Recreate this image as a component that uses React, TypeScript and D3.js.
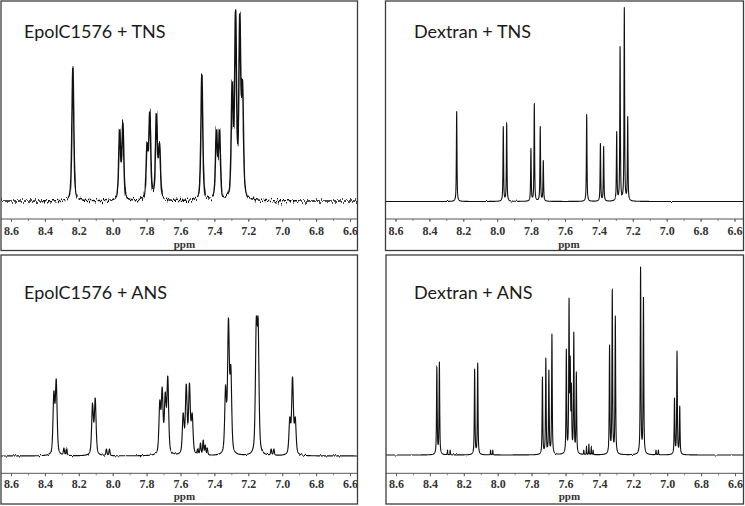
import React, { useMemo } from 'react';
import * as d3 from 'd3';

// ---------- data ----------
const TICK_VALUES = [8.6, 8.4, 8.2, 8.0, 7.8, 7.6, 7.4, 7.2, 7.0, 6.8, 6.6];
const TICK_LABELS = ['8.6', '8.4', '8.2', '8.0', '7.8', '7.6', '7.4', '7.2', '7.0', '6.8', '6.6'];
const AXIS_LABEL = 'ppm';
const TITLES = ['EpolC1576 + TNS', 'Dextran + TNS', 'EpolC1576 + ANS', 'Dextran + ANS'];

// Peak positions (ppm) and observed heights (relative intensity) per spectrum
const EPOL_TNS_PPM = [8.238, 7.962, 7.943, 7.800, 7.784, 7.745, 7.727, 7.477, 7.391, 7.373, 7.298, 7.278, 7.253, 7.237];
const EPOL_TNS_H = [134, 72, 79, 59, 91, 89, 61, 126, 73, 73, 121, 192, 189, 121];

const DEX_TNS_PPM = [8.242, 7.967, 7.947, 7.804, 7.784, 7.749, 7.731, 7.475, 7.394, 7.375, 7.298, 7.278, 7.253, 7.233];
const DEX_TNS_H = [90, 75, 79, 53, 98, 75, 41, 87, 58, 55, 70, 155, 194, 85];

const EPOL_ANS_PPM = [8.350, 8.336, 8.291, 8.275, 8.122, 8.106, 8.040, 8.022, 7.725, 7.711, 7.693, 7.678, 7.587, 7.569, 7.550, 7.534, 7.501, 7.485, 7.469, 7.457, 7.445, 7.337, 7.320, 7.306, 7.156, 7.145, 7.068, 7.052, 6.958, 6.942, 6.926];
const EPOL_ANS_H = [65, 77, 8, 8, 53, 58, 7, 7, 56, 69, 64, 80, 43, 72, 73, 43, 8, 13, 16, 11, 8, 71, 138, 91, 138, 138, 7, 7, 39, 79, 39];

const DEX_ANS_PPM = [8.362, 8.347, 8.299, 8.283, 8.139, 8.121, 8.045, 8.032, 7.739, 7.719, 7.701, 7.683, 7.598, 7.582, 7.575, 7.568, 7.554, 7.539, 7.495, 7.479, 7.465, 7.451, 7.440, 7.343, 7.327, 7.309, 7.160, 7.143, 7.069, 7.055, 6.960, 6.945, 6.929];
const DEX_ANS_H = [89, 93, 5, 5, 86, 92, 5, 5, 78, 97, 85, 121, 106, 157, 99, 72, 123, 83, 5, 8, 11, 8, 5, 110, 166, 139, 188, 158, 5, 5, 57, 104, 49];

const SPECTRA = [
  { ppm: EPOL_TNS_PPM, h: EPOL_TNS_H },
  { ppm: DEX_TNS_PPM, h: DEX_TNS_H },
  { ppm: EPOL_ANS_PPM, h: EPOL_ANS_H },
  { ppm: DEX_ANS_PPM, h: DEX_ANS_H },
];

// ---------- layout / style ----------
const PANELS = [
  { left: 1, top: 1, right: 357.5, bottom: 250.5, axisY: 219, baseline: 201, tickY: 235, ppmY: 247.5, titleX: 24, titleY: 38, fwhm: 0.013, eta: 0.5, noise: 10, sw: 1.5 },
  { left: 385.5, top: 1, right: 743.5, bottom: 250.5, axisY: 219, baseline: 201.5, tickY: 235, ppmY: 247.5, titleX: 414, titleY: 38, fwhm: 0.0042, eta: 0.7, noise: 2, sw: 1.1 },
  { left: 1, top: 255, right: 357.5, bottom: 504, axisY: 473.3, baseline: 456, tickY: 488, ppmY: 499.5, titleX: 24, titleY: 299, fwhm: 0.012, eta: 0.5, noise: 2.5, sw: 1.15 },
  { left: 386, top: 255, right: 743.5, bottom: 504, axisY: 473.3, baseline: 455, tickY: 488, ppmY: 499.5, titleX: 414, titleY: 299, fwhm: 0.0045, eta: 0.7, noise: 2, sw: 1.1 },
];

function shape(d: number, fwhm: number, eta: number) {
  const r = (d * d) / (fwhm * fwhm);
  const g = Math.exp(-4 * Math.LN2 * r);
  const l = 1 / (1 + 4 * r);
  return eta * l + (1 - eta) * g;
}

function solve(A: number[][], b: number[]) {
  const n = b.length;
  const M = A.map((row, i) => [...row, b[i]]);
  for (let c = 0; c < n; c++) {
    let p = c;
    for (let r = c + 1; r < n; r++) if (Math.abs(M[r][c]) > Math.abs(M[p][c])) p = r;
    [M[c], M[p]] = [M[p], M[c]];
    for (let r = c + 1; r < n; r++) {
      const f = M[r][c] / M[c][c];
      for (let k = c; k <= n; k++) M[r][k] -= f * M[c][k];
    }
  }
  const x = new Array(n).fill(0);
  for (let r = n - 1; r >= 0; r--) {
    let s = M[r][n];
    for (let k = r + 1; k < n; k++) s -= M[r][k] * x[k];
    x[r] = s / M[r][r];
  }
  return x;
}

function Panel({ idx }: { idx: number }) {
  const P = PANELS[idx];
  const S = SPECTRA[idx];
  const x = d3.scaleLinear().domain([8.6, 6.6]).range([P.left + 10.5, P.left + 349.5]);
  const y = d3.scaleLinear().domain([0, 200]).range([P.baseline, P.baseline - 200]);

  const path = useMemo(() => {
    const widths = S.h.map((v) => (v < 20 ? P.fwhm * 0.6 : P.fwhm));
    const A = S.ppm.map((pi) => S.ppm.map((pj, j) => shape(pi - pj, widths[j], P.eta)));
    const amps = solve(A, S.h).map((a) => Math.max(0, a));
    const lo = x.invert(P.right + 2);
    const hi = x.invert(P.left - 2);
    const pts = d3.range(lo, hi, 0.0005).concat(S.ppm).sort((a, b) => a - b);
    const data = pts.map((p) => {
      let s = 0;
      for (let j = 0; j < amps.length; j++) s += amps[j] * shape(p - S.ppm[j], widths[j], P.eta);
      return [p, s] as [number, number];
    });
    return d3.line<[number, number]>().x((d) => x(d[0])).y((d) => y(d[1]))(data) || '';
  }, [idx]);

  const clipId = `clip${idx}`;
  const filtId = `noise${idx}`;
  const minor = x.ticks(20);

  return (
    <g>
      <defs>
        <clipPath id={clipId}>
          <rect x={P.left} y={P.top} width={P.right - P.left} height={P.bottom - P.top} />
        </clipPath>
        <filter id={filtId} filterUnits="userSpaceOnUse" x={P.left - 5} y={P.top - 5} width={P.right - P.left + 10} height={P.bottom - P.top + 10} colorInterpolationFilters="sRGB">
          <feTurbulence type="fractalNoise" baseFrequency="0.8 0.06" numOctaves={2} seed={idx + 3} result="t" />
          <feColorMatrix in="t" type="matrix" values="0 0 0 0 0.5  0 1 0 0 0  0 0 0 0 0  0 0 0 0 1" result="m" />
          <feDisplacementMap in="SourceGraphic" in2="m" scale={P.noise} xChannelSelector="R" yChannelSelector="G" />
        </filter>
      </defs>
      <rect x={P.left} y={P.top} width={P.right - P.left} height={P.bottom - P.top} fill="#fff" stroke="none" />
      <g clipPath={`url(#${clipId})`}>
        <path d={path} fill="none" stroke="#111" strokeWidth={P.sw} strokeLinejoin="round" filter={`url(#${filtId})`} />
        <line x1={P.left} x2={P.right} y1={P.axisY} y2={P.axisY} stroke="#555" strokeWidth={1} />
        {minor.map((t) => (
          <line key={`m${t}`} x1={x(t)} x2={x(t)} y1={P.axisY} y2={P.axisY + 2} stroke="#666" strokeWidth={0.8} />
        ))}
        {TICK_VALUES.map((t, i) => (
          <g key={`t${i}`}>
            <line x1={x(t)} x2={x(t)} y1={P.axisY} y2={P.axisY + 3} stroke="#555" strokeWidth={0.9} />
            <text x={x(t)} y={P.tickY} textAnchor="middle" fontFamily="'Liberation Serif', 'DejaVu Serif', serif" fontWeight="bold" fontSize={12} fill="#333">
              {TICK_LABELS[i]}
            </text>
          </g>
        ))}
        <text x={x(7.58)} y={P.ppmY} textAnchor="middle" fontFamily="'Liberation Serif', 'DejaVu Serif', serif" fontWeight="bold" fontSize={11} fill="#333">
          {AXIS_LABEL}
        </text>
        <text x={P.titleX} y={P.titleY} fontFamily="Lato, 'Open Sans', sans-serif" fontSize={18} fill="#1a1a1a">
          {TITLES[idx]}
        </text>
      </g>
      <rect x={P.left} y={P.top} width={P.right - P.left} height={P.bottom - P.top} fill="none" stroke="#3c3c3c" strokeWidth={1.3} />
    </g>
  );
}

export default function App() {
  return (
    <svg width={745} height={506} style={{ position: 'absolute', left: 0, top: 0, background: '#fff' }}>
      <rect x={0} y={0} width={745} height={506} fill="#fff" />
      {[0, 1, 2, 3].map((i) => (
        <Panel key={i} idx={i} />
      ))}
    </svg>
  );
}
